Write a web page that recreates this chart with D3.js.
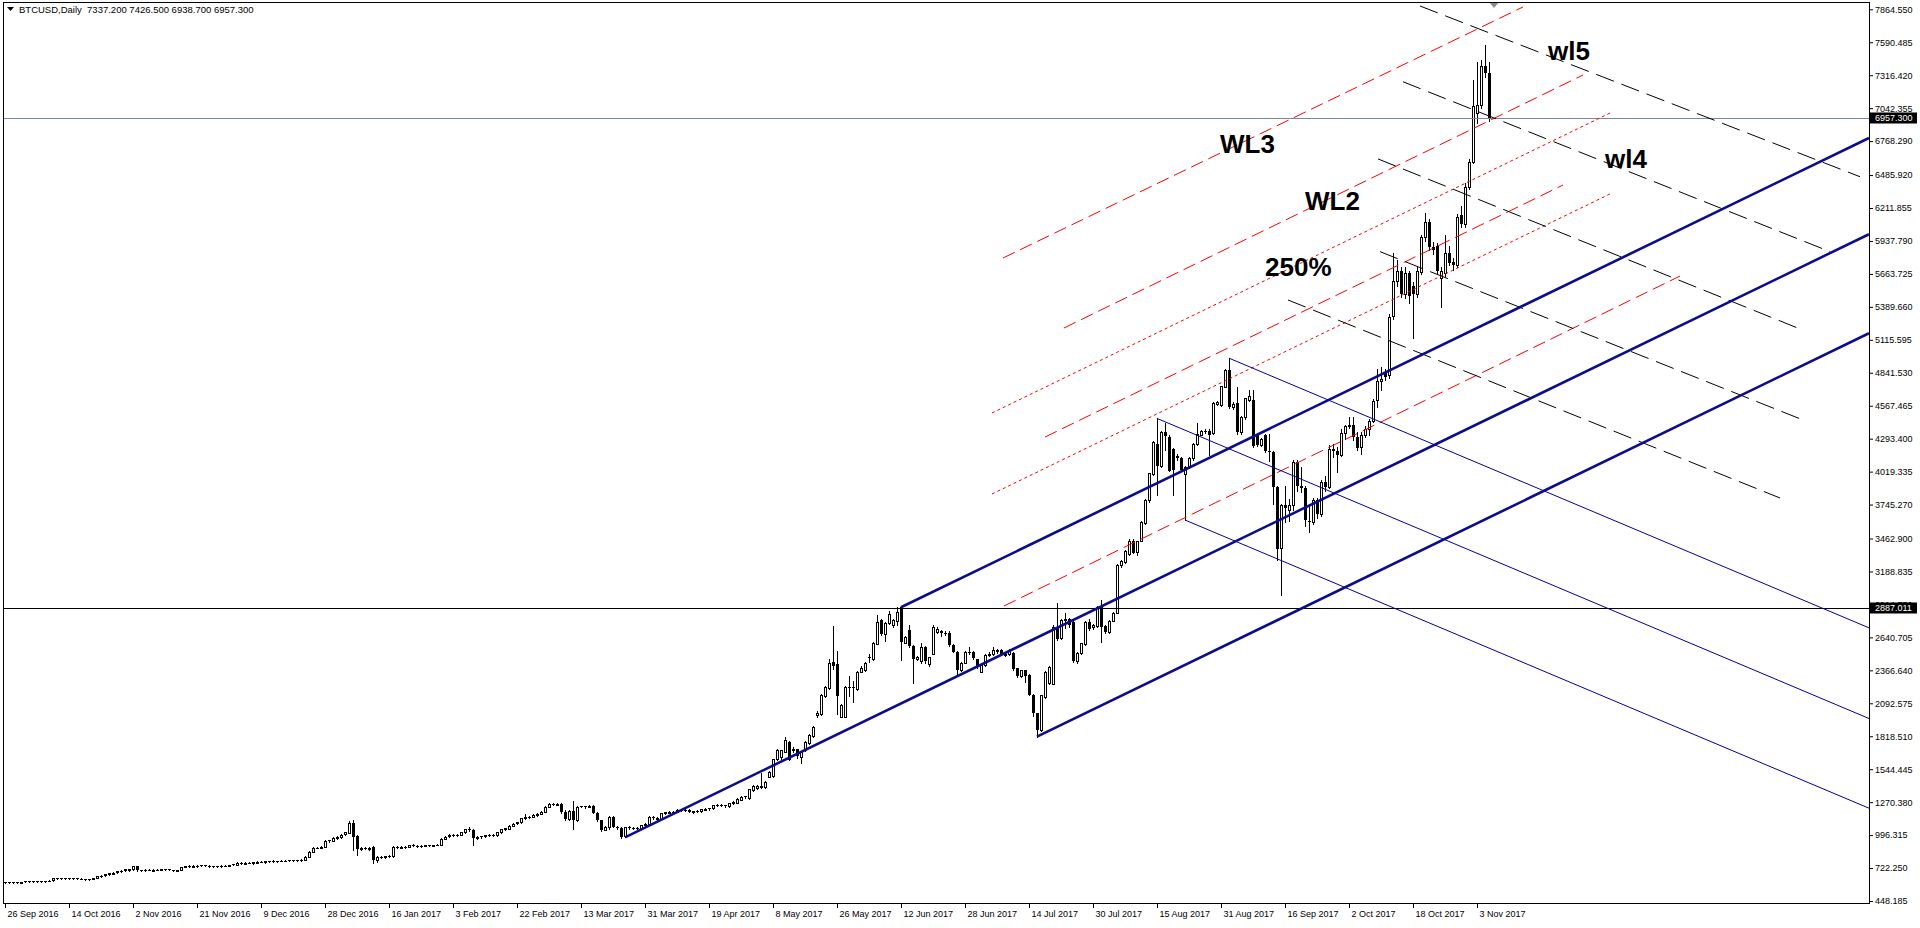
<!DOCTYPE html>
<html lang="en">
<head>
<meta charset="UTF-8" />
<script src="https://d3js.org/d3.v7.min.js"></script>
<style>
  body { margin: 0; background: #fff; overflow: hidden; }
  svg { display: block; }
  .axis text { font-family: "Liberation Sans", Arial, sans-serif; font-size: 9px; fill: #000; }
</style>
</head>
<body>
<svg width="1920" height="928"></svg>
<script>
// date labels every 16 bars, starting at bar 0
const dateLabels = ["26 Sep 2016", "14 Oct 2016", "2 Nov 2016", "21 Nov 2016", "9 Dec 2016", "28 Dec 2016",
  "16 Jan 2017", "3 Feb 2017", "22 Feb 2017", "13 Mar 2017", "31 Mar 2017", "19 Apr 2017",
  "8 May 2017", "26 May 2017", "12 Jun 2017", "28 Jun 2017", "14 Jul 2017", "30 Jul 2017",
  "15 Aug 2017", "31 Aug 2017", "16 Sep 2017", "2 Oct 2017", "18 Oct 2017", "3 Nov 2017"];

const priceTicks = [7864.550, 7590.485, 7316.420, 7042.355, 6768.290, 6485.920, 6211.855, 5937.790,
  5663.725, 5389.660, 5115.595, 4841.530, 4567.465, 4293.400, 4019.335, 3745.270, 3462.900,
  3188.835, 2914.770, 2640.705, 2366.640, 2092.575, 1818.510, 1544.445, 1270.380, 996.315,
  722.250, 448.185];

// daily candles [open, high, low, close]
const ohlc = [
  [606,610,600,604],[604,609,601,607],[607,610,602,604],[604,606,598,603],[603,610,600,608],
  [608,614,605,612],[612,615,608,610],[610,616,607,613],[613,617,609,611],[611,616,608,614],
  [614,618,610,616],[616,620,612,618],[618,640,616,636],[636,642,630,638],[638,641,633,636],
  [636,640,632,637],[637,641,633,635],[635,639,630,636],[636,640,631,634],[634,637,629,632],
  [632,635,624,628],[628,633,625,631],[631,640,628,638],[638,660,636,656],[656,664,650,660],
  [660,676,656,672],[672,684,668,680],[680,690,674,685],[685,700,680,697],[697,706,690,700],
  [700,716,696,712],[700,715,696,712],[712,740,710,736],[736,742,700,703],[703,710,698,706],
  [706,712,700,708],[708,713,702,705],[705,712,700,710],[710,716,704,708],[708,718,705,714],
  [714,718,708,712],[712,716,704,706],[706,710,700,703],[703,710,700,708],[708,735,706,732],
  [732,742,728,738],[738,744,730,735],[735,745,732,740],[740,746,734,742],[742,748,738,744],
  [744,750,738,741],[741,746,735,738],[738,742,733,736],[736,742,732,739],[739,744,735,741],
  [741,746,737,743],[743,750,740,748],[748,756,745,752],[752,770,750,766],[766,772,758,762],
  [762,770,758,768],[768,772,762,765],[765,772,760,770],[770,778,766,775],[775,780,770,772],
  [772,780,768,778],[778,784,774,781],[781,786,776,779],[779,784,774,782],[782,788,778,785],
  [785,790,780,783],[783,788,778,786],[786,790,781,788],[788,792,783,790],[790,794,785,792],
  [792,820,790,816],[816,862,814,858],[858,898,855,893],[893,900,885,890],[890,902,886,898],
  [898,952,896,948],[948,958,940,952],[952,978,948,974],[974,985,965,980],[980,1002,976,998],
  [998,1022,994,1018],[1018,1110,1010,1100],[1098,1120,872,985],[985,995,830,880],[880,900,870,888],
  [888,898,878,882],[882,895,876,890],[895,905,764,785],[788,822,770,815],[815,825,806,812],
  [812,826,808,820],[820,830,814,824],[824,906,818,898],[898,908,888,895],[895,905,888,900],
  [900,906,890,896],[896,918,894,912],[912,920,904,908],[908,914,898,902],[902,912,898,906],
  [906,916,902,912],[912,918,905,910],[910,918,906,915],[915,922,910,918],[918,972,915,965],
  [965,990,960,984],[984,1002,978,996],[996,1004,988,994],[994,1002,986,998],[998,1024,994,1020],
  [1020,1048,1016,1044],[1044,1062,1030,1040],[1040,1045,915,970],[970,988,962,982],[982,990,975,985],
  [985,998,980,994],[994,1002,988,998],[998,1004,990,995],[995,1025,992,1020],[1020,1050,1015,1046],
  [1046,1058,1040,1052],[1052,1080,1048,1075],[1075,1095,1070,1090],[1090,1108,1085,1102],[1102,1142,1098,1138],
  [1138,1170,1130,1146],[1146,1158,1138,1150],[1150,1168,1145,1163],[1163,1180,1158,1175],[1175,1195,1168,1190],
  [1190,1238,1186,1232],[1232,1262,1228,1254],[1254,1262,1245,1250],[1250,1265,1246,1258],[1258,1266,1180,1192],
  [1192,1205,1122,1130],[1130,1205,1125,1198],[1198,1282,1045,1120],[1120,1240,1115,1232],[1232,1242,1226,1236],
  [1236,1240,1225,1230],[1230,1244,1226,1238],[1238,1250,1176,1182],[1182,1190,1115,1122],[1122,1125,1030,1040],
  [1040,1068,1035,1062],[1062,1155,1050,1148],[1148,1152,1060,1066],[1066,1072,1050,1055],[1055,1062,976,983],
  [983,1066,980,1060],[1060,1072,1050,1058],[1058,1066,1048,1056],[1056,1062,1046,1052],[1052,1084,1048,1080],
  [1080,1096,1074,1090],[1090,1152,1086,1148],[1148,1155,1132,1140],[1140,1146,1118,1125],[1125,1180,1120,1176],
  [1176,1192,1170,1185],[1185,1196,1178,1190],[1190,1198,1183,1192],[1192,1210,1186,1205],[1205,1214,1196,1206],
  [1206,1214,1198,1204],[1207,1212,1186,1190],[1190,1200,1184,1195],[1195,1202,1188,1197],[1197,1214,1192,1210],
  [1210,1222,1205,1215],[1215,1225,1208,1218],[1218,1250,1214,1245],[1245,1256,1236,1246],[1246,1252,1236,1240],
  [1244,1250,1230,1235],[1235,1264,1232,1260],[1260,1278,1255,1268],[1268,1304,1262,1300],[1295,1320,1288,1316],
  [1316,1324,1308,1318],[1300,1380,1296,1377],[1371,1410,1365,1405],[1385,1410,1380,1405],[1405,1510,1385,1390],
  [1400,1444,1392,1440],[1482,1530,1476,1523],[1482,1630,1478,1626],[1626,1710,1620,1704],[1640,1706,1630,1700],
  [1690,1815,1685,1787],[1773,1780,1620,1626],[1700,1725,1690,1710],[1710,1716,1640,1648],[1648,1695,1600,1690],
  [1704,1780,1698,1773],[1760,1835,1755,1828],[1820,1905,1815,1897],[1995,2030,1980,2014],[2003,2170,1998,2162],
  [2154,2240,2148,2231],[2217,2460,2210,2425],[2440,2735,2380,2410],[2417,2530,2000,2148],[1980,2085,1975,2078],
  [1980,2240,1975,2231],[2231,2320,2150,2225],[2225,2280,2100,2220],[2210,2360,2205,2355],[2360,2400,2350,2390],
  [2370,2440,2365,2430],[2480,2500,2440,2478],[2460,2600,2455,2591],[2591,2826,2585,2771],[2785,2790,2660,2668],
  [2668,2765,2610,2757],[2757,2860,2750,2834],[2740,2795,2730,2785],[2780,2891,2740,2854],[2891,2895,2452,2596],
  [2596,2655,2590,2647],[2700,2740,2560,2565],[2569,2575,2258,2458],[2460,2490,2450,2480],[2438,2590,2430,2558],
  [2558,2565,2430,2438],[2420,2480,2405,2475],[2508,2740,2500,2730],[2690,2725,2675,2713],[2690,2700,2650,2675],
  [2675,2690,2660,2670],[2674,2690,2570,2577],[2577,2585,2515,2522],[2522,2530,2340,2370],[2370,2440,2360,2430],
  [2430,2530,2425,2522],[2522,2560,2500,2518],[2515,2525,2460,2468],[2458,2465,2390,2397],[2355,2415,2350,2411],
  [2411,2500,2405,2494],[2494,2515,2490,2505],[2502,2560,2495,2535],[2535,2545,2510,2520],[2535,2540,2495,2500],
  [2500,2515,2490,2505],[2505,2540,2495,2535],[2508,2515,2370,2375],[2383,2390,2310,2314],[2318,2372,2312,2366],
  [2366,2370,2270,2320],[2328,2335,2160,2162],[2162,2170,1990,2010],[2010,2015,1815,1870],[1870,2162,1860,2160],
  [2148,2360,2140,2355],[2260,2400,2250,2397],[2258,2740,2250,2730],[2730,2924,2620,2633],[2638,2790,2630,2785],
  [2785,2840,2720,2790],[2790,2800,2730,2740],[2771,2780,2440,2446],[2446,2515,2430,2510],[2510,2595,2500,2590],
  [2586,2780,2580,2771],[2771,2790,2705,2715],[2720,2750,2710,2740],[2735,2900,2730,2896],[2891,2950,2605,2727],
  [2735,2740,2680,2688],[2688,2785,2680,2780],[2780,2850,2775,2846],[2846,3250,2840,3242],[3242,3285,3230,3278],
  [3270,3370,3260,3361],[3340,3455,3330,3446],[3446,3460,3340,3350],[3350,3445,3330,3440],[3446,3610,3440,3600],
  [3594,3790,3585,3783],[3778,4010,3770,4005],[4005,4275,3995,4268],[4249,4462,3825,4066],[4066,4360,4055,4351],
  [4351,4420,4200,4320],[4310,4320,4025,4031],[4205,4215,3825,4031],[4150,4170,4120,4130],[4130,4140,4025,4031],
  [4005,4070,3617,4060],[4060,4140,4050,4130],[4130,4255,4120,4249],[4249,4420,4240,4330],[4330,4368,4320,4360],
  [4360,4370,4340,4350],[4360,4370,4160,4330],[4338,4595,4330,4587],[4580,4610,4570,4600],[4573,4735,4565,4728],
  [4728,4875,4720,4867],[4867,4963,4550,4557],[4557,4600,4540,4580],[4587,4720,4335,4343],[4343,4480,4335,4470],
  [4470,4635,4460,4630],[4620,4700,4610,4650],[4615,4700,4225,4232],[4323,4330,4230,4240],[4240,4300,4230,4290],
  [4323,4330,4180,4186],[4186,4330,4110,4190],[4186,4195,3748,3894],[3894,3900,3284,3381],[3381,3750,2993,3741],
  [3741,3900,3600,3720],[3700,3790,3610,3740],[3740,4120,3700,4100],[4100,4120,3860,3900],[3900,4060,3850,3880],
  [3880,3900,3570,3610],[3610,3750,3520,3600],[3600,3800,3580,3780],[3780,3800,3630,3660],[3660,3950,3650,3930],
  [3930,3980,3860,3890],[3890,4240,3880,4210],[4210,4250,4140,4190],[4190,4220,4020,4160],[4160,4370,4150,4340],
  [4340,4410,4290,4400],[4400,4470,4380,4410],[4410,4470,4280,4310],[4310,4350,4200,4220],[4220,4350,4170,4320],
  [4320,4400,4310,4370],[4370,4460,4320,4440],[4440,4620,4430,4610],[4610,4870,4560,4770],[4770,4890,4700,4790],
  [4850,4870,4780,4810],[4823,5330,4800,5308],[5308,5836,5290,5602],[5602,5780,5560,5685],[5685,5720,5470,5497],
  [5497,5720,5460,5670],[5670,5690,5420,5480],[5560,5600,5128,5490],[5490,5720,5470,5685],[5685,5990,5660,5974],
  [5974,6172,5940,6099],[6099,6120,5860,5891],[5891,5930,5830,5864],[5897,5920,5660,5685],[5630,5720,5391,5685],
  [5670,5988,5650,5836],[5836,5900,5740,5753],[5766,5800,5700,5738],[5738,6160,5720,6140],[6154,6230,6050,6079],
  [6079,6420,6050,6389],[6389,6620,6370,6597],[6597,7276,6590,7060],[6999,7429,6916,7069],[7069,7440,7040,7396],
  [7396,7565,7300,7341],[7337.2,7426.5,6938.7,6957.3]
];

// drawn objects, in [bar, price, bar, price]
const channelLines = [[155, 978, 466, 5994], [224, 2891, 466, 6794], [258, 1815, 466, 5170]];
const fanLines = [[306, 4963, 466, 2720], [288, 4462, 466, 1966], [295, 3617, 466, 1220]];
const wlDashed = [[353.75, 7892, 463.75, 6472], [349.5, 7262, 456.25, 5849], [343.25, 6620, 448.75, 5206],
  [343.75, 5849, 449.5, 4449], [320.75, 5447, 443.75, 3800]];
const redDashed = [[249.5, 5796, 379.5, 7884], [264.75, 5214, 394.5, 7318], [260, 4307, 389.5, 6403],
  [249.75, 2902, 418.75, 5646]];
const redDotted = [[246.75, 4507, 401.75, 7010], [246.75, 3833, 401.75, 6337]];
const hLevels = [2887.011, 6957.3];
const notes = [
  { text: "wl5", bar: 385.75, price: 7443 },
  { text: "wl4", bar: 400, price: 6545 },
  { text: "WL3", bar: 303.75, price: 6670 },
  { text: "WL2", bar: 325, price: 6195 },
  { text: "250%", bar: 315, price: 5646 }
];
const header = "BTCUSD,Daily  7337.200 7426.500 6938.700 6957.300";

const svg = d3.select("svg");
const plotL = 3, plotR = 1869, plotT = 2, plotB = 903;

const x = d3.scaleLinear().domain([0, 466]).range([5, 1869]);
const y = d3.scaleLinear().domain([448.185, 7864.55]).range([901, 9.3]);

svg.append("defs").append("clipPath").attr("id", "plot")
  .append("rect").attr("x", plotL).attr("y", plotT).attr("width", plotR - plotL).attr("height", plotB - plotT);

const plot = svg.append("g").attr("clip-path", "url(#plot)");

// candles
const cx = i => Math.round(x(i));
const candles = plot.append("g").attr("shape-rendering", "crispEdges");
candles.selectAll("line").data(ohlc).join("line")
  .attr("x1", (d, i) => cx(i) + 0.5).attr("x2", (d, i) => cx(i) + 0.5)
  .attr("y1", d => Math.round(y(d[1]))).attr("y2", d => Math.round(y(d[2])) + 1)
  .attr("stroke", "#000").attr("stroke-width", 1);

candles.selectAll("rect").data(ohlc).join("rect")
  .attr("x", (d, i) => d[3] >= d[0] ? cx(i) - 0.5 : cx(i) - 1)
  .attr("width", d => d[3] >= d[0] ? 2 : 3)
  .attr("y", d => Math.round(y(Math.max(d[0], d[3]))) + (d[3] >= d[0] ? 0.5 : 0))
  .attr("height", d => Math.max(d[3] >= d[0] ? 0.001 : 1, Math.round(Math.abs(y(d[0]) - y(d[3])))))
  .attr("fill", d => d[3] >= d[0] ? "#fff" : "#000")
  .attr("stroke", d => d[3] >= d[0] ? "#000" : "none")
  .attr("stroke-width", 1);

// horizontal levels
plot.selectAll("line.level").data(hLevels).join("line").attr("class", "level")
  .attr("x1", plotL).attr("x2", plotR)
  .attr("y1", d => Math.round(y(d)) + 0.5).attr("y2", d => Math.round(y(d)) + 0.5)
  .attr("stroke", (d, i) => i === 0 ? "#000" : "#778899").attr("stroke-width", 1);

function drawSegs(data, color, width, dash) {
  plot.append("g").selectAll("line").data(data).join("line")
    .attr("x1", d => x(d[0])).attr("y1", d => y(d[1]))
    .attr("x2", d => x(d[2])).attr("y2", d => y(d[3]))
    .attr("stroke", color).attr("stroke-width", width)
    .attr("stroke-dasharray", dash);
}

drawSegs(redDashed, "#ff0000", 1, "13,6");
drawSegs(redDotted, "#ff0000", 1, "3,3");
drawSegs(wlDashed, "#000", 1, "19,8");
drawSegs(fanLines, "#0000a0", 1, null);
drawSegs(channelLines, "#0c0c8c", 2.6, null);

// text notes
plot.append("g").selectAll("text").data(notes).join("text")
  .attr("x", d => x(d.bar)).attr("y", d => y(d.price))
  .attr("font-family", "'Liberation Sans', Arial, sans-serif")
  .attr("font-weight", "bold").attr("font-size", 26).attr("fill", "#000")
  .text(d => d.text);

// chart shift marker
svg.append("path").attr("d", "M1489,2 L1499,2 L1494,8 Z").attr("fill", "#8c8c8c");

// price axis
const yAxis = svg.append("g").attr("class", "axis")
  .attr("transform", `translate(${plotR},0)`)
  .call(d3.axisRight(y).tickValues(priceTicks).tickFormat(d3.format(".3f")).tickSize(4).tickSizeOuter(0));
yAxis.select(".domain").remove();
yAxis.selectAll("text").attr("x", 6);

// date axis
const xAxis = svg.append("g").attr("class", "axis")
  .attr("transform", `translate(0,${plotB})`)
  .call(d3.axisBottom(x).tickValues(dateLabels.map((d, i) => i * 16))
    .tickFormat((d, i) => dateLabels[i]).tickSize(5).tickSizeOuter(0));
xAxis.select(".domain").remove();
xAxis.selectAll("text").attr("text-anchor", "start").attr("x", 2).attr("y", 11).attr("dy", "0.35em");

// frame
svg.append("rect").attr("x", plotL + 0.5).attr("y", plotT + 0.5)
  .attr("width", plotR - plotL).attr("height", plotB - plotT)
  .attr("fill", "none").attr("stroke", "#000").attr("shape-rendering", "crispEdges");

// level labels on the price axis
const tags = svg.append("g").selectAll("g").data(hLevels).join("g")
  .attr("transform", d => `translate(${plotR + 1},${Math.round(y(d))})`);
tags.append("rect").attr("x", 0).attr("y", -5.5).attr("width", 47).attr("height", 11).attr("fill", "#000");
tags.append("text").attr("x", 5).attr("y", 0).attr("dy", "0.35em")
  .attr("font-family", "'Liberation Sans', Arial, sans-serif").attr("font-size", 9).attr("fill", "#fff")
  .text(d => d3.format(".3f")(d));

// header
svg.append("path").attr("d", "M7,7 L14,7 L10.5,11 Z").attr("fill", "#000");
svg.append("text").attr("x", 19).attr("y", 13)
  .attr("font-family", "'Liberation Sans', Arial, sans-serif").attr("font-size", 9.5)
  .style("white-space", "pre").text(header);
</script>
</body>
</html>
